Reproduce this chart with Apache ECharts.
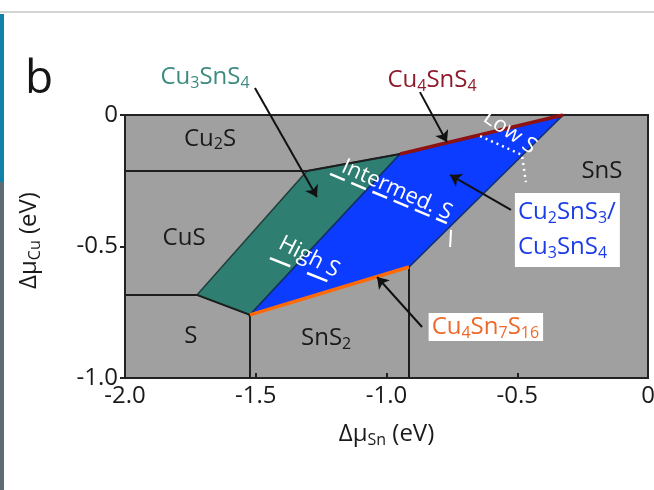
<!DOCTYPE html>
<html><head><meta charset="utf-8">
<script src="https://cdn.jsdelivr.net/npm/echarts@6/dist/echarts.min.js"></script>
<style>
html,body{margin:0;padding:0;background:#fff;overflow:hidden}
#c{position:absolute;left:0;top:0;width:654px;height:490px}
#topline{position:absolute;left:0;top:11px;width:654px;height:2px;background:#d4d4d4}
#bar1{position:absolute;left:0;top:14px;width:4px;height:168px;background:#1281a8}
#bar2{position:absolute;left:0;top:182px;width:4px;height:308px;background:#5d6b75}
</style></head><body>
<div id="c"></div><div id="topline"></div><div id="bar1"></div><div id="bar2"></div>
<script>
// ---- data (Δμ_Sn, Δμ_Cu in eV) ----
const xTickValues = [-2.0, -1.5, -1.0, -0.5, 0];
const yTickValues = [-1.0, -0.5, 0];
const cu3snS4Region = [[-1.725, -0.684], [-1.304, -0.213], [-0.948, -0.148], [-1.522, -0.760]];
const cu2snS3Region = [[-1.522, -0.760], [-0.948, -0.148], [-0.325, 0.0], [-0.914, -0.578]];
const cu2sCusLine = [[-2.0, -0.213], [-1.304, -0.213], [-0.948, -0.148]];
const cusSLine = [[-2.0, -0.684], [-1.725, -0.684], [-1.522, -0.760], [-1.522, -1.0]];
const snS2SnSLine = [[-0.914, -0.578], [-0.914, -1.0]];
const cu4snS4Line = [[-0.948, -0.148], [-0.325, 0.0]];
const cu4sn7S16Line = [[-1.522, -0.760], [-0.914, -0.578]];
const intermedDash = [[-1.216, -0.224], [-0.769, -0.411]];
const intermedTick = [[-0.753, -0.437], [-0.757, -0.502]];
const highDash = [[-1.446, -0.544], [-1.208, -0.639]];
const lowDots = [[-0.642, -0.080], [-0.482, -0.152], [-0.467, -0.255]];
const arrows = [
  [[-1.503, 0.103], [-1.266, -0.312]],
  [[-0.872, 0.087], [-0.769, -0.103]],
  [[-0.524, -0.361], [-0.757, -0.228]],
  [[-0.864, -0.806], [-1.036, -0.616]]
];
const phaseLabels = [
  ['Cu{s|2}S', [-1.675, -0.091], '#1a1a1a', 0, null],
  ['CuS', [-1.774, -0.468], '#1a1a1a', 0, null],
  ['S', [-1.748, -0.840], '#1a1a1a', 0, null],
  ['SnS{s|2}', [-1.231, -0.848], '#1a1a1a', 0, null],
  ['SnS', [-0.176, -0.213], '#1a1a1a', 0, null],
  ['Cu{s|3}SnS{s|4}', [-1.694, 0.144], '#3d8a80', 0, null],
  ['Cu{s|4}SnS{s|4}', [-0.826, 0.133], '#8e1b2b', 0, null],
  ['Cu{s|2}SnS{s|3}/\nCu{s|3}SnS{s|4}', [-0.509, -0.437], '#1c3de6', 0, '#ffffff'],
  ['Cu{s|4}Sn{s|7}S{s|16}', [-0.620, -0.806], '#ee6a2c', 0, '#ffffff'],
  ['Low S', [-0.528, -0.065], '#ffffff', -35, null],
  ['Intermed. S', [-0.960, -0.285], '#ffffff', -24, null],
  ['High S', [-1.296, -0.540], '#ffffff', -27, null]
];

const F = '"Open Sans", "Noto Sans", sans-serif';
const chart = echarts.init(document.getElementById('c'), null, {renderer: 'canvas'});

function fmt(v) { return v === 0 ? '0' : v.toFixed(1); }
function polySeries(region, fill, stroke) {
  return {
    type: 'custom', z: 1, silent: true, clip: false,
    data: [region[0]],
    renderItem: function (params, api) {
      return {type: 'polygon', shape: {points: region.map(function (p) { return api.coord(p); })},
        style: {fill: fill, stroke: stroke, lineWidth: 1.5}};
    }
  };
}
function lineSeries(pts, color, width, type, z) {
  return {type: 'line', data: pts, symbol: 'none', silent: true, z: z || 3,
    lineStyle: {color: color, width: width, type: type || 'solid'}};
}

const labelData = phaseLabels.map(function (l) {
  const multi = l[0].indexOf('\n') >= 0;
  return {
    value: l[1],
    label: {
      show: true, position: 'inside', formatter: l[0], rotate: l[3],
      color: l[2], fontSize: (l[2] === '#ffffff') ? 22 : 24, fontFamily: F,
      lineHeight: multi ? 35 : undefined,
      align: multi ? 'left' : 'center',
      backgroundColor: l[4] || 'transparent',
      padding: l[4] ? [2, 4, 2, 3] : 0,
      rich: {s: {fontSize: 16, lineHeight: 16, color: l[2], fontFamily: F, padding: [12, 0, 0, 0]}}
    }
  };
});

chart.setOption({
  animation: false,
  title: {text: 'b', left: 20, top: 52, textStyle: {fontSize: 46, fontWeight: 'normal', color: '#151515', fontFamily: F}},
  grid: {left: 125, right: 6, top: 115, bottom: 112, show: true, backgroundColor: '#a0a0a0',
    borderColor: '#222', borderWidth: 2, containLabel: false, outerBoundsMode: 'none'},
  xAxis: {
    type: 'value', min: -2, max: 0, interval: 0.5,
    axisLine: {show: true, onZero: false, lineStyle: {color: '#222', width: 2}},
    axisTick: {show: true, inside: true, length: 5, lineStyle: {color: '#222', width: 2}},
    axisLabel: {formatter: fmt, fontSize: 24, color: '#1a1a1a', fontFamily: F, margin: 6},
    splitLine: {show: false},
    name: 'Δμ{s|Sn} (eV)', nameLocation: 'middle', nameGap: 44,
    nameTextStyle: {fontSize: 24, color: '#1a1a1a', fontFamily: F,
      rich: {s: {fontSize: 16, lineHeight: 16, color: '#1a1a1a', fontFamily: F, padding: [12, 0, 0, 0]}}}
  },
  yAxis: {
    type: 'value', min: -1, max: 0, interval: 0.5,
    axisLine: {show: true, onZero: false, lineStyle: {color: '#222', width: 2}},
    axisTick: {show: true, inside: false, length: 5, lineStyle: {color: '#222', width: 2}},
    axisLabel: {formatter: fmt, fontSize: 24, color: '#1a1a1a', fontFamily: F, margin: 7},
    splitLine: {show: false},
    name: 'Δμ{s|Cu} (eV)', nameLocation: 'middle', nameGap: 84,
    nameTextStyle: {fontSize: 24, color: '#1a1a1a', fontFamily: F, padding: [0, 0, 0, 12],
      rich: {s: {fontSize: 16, lineHeight: 16, color: '#1a1a1a', fontFamily: F, padding: [12, 0, 0, 0]}}}
  },
  series: [
    polySeries(cu3snS4Region, '#2f7e72', '#1f3f3a'),
    polySeries(cu2snS3Region, '#0b3cff', '#13306e'),
    lineSeries(cu2sCusLine, '#1e1e1e', 2),
    lineSeries(cusSLine, '#1e1e1e', 2),
    lineSeries(snS2SnSLine, '#1e1e1e', 2),
    lineSeries(cu4snS4Line, '#8e1212', 3.5, 'solid', 4),
    lineSeries(cu4sn7S16Line, '#ff6a08', 3.5, 'solid', 4),
    lineSeries(intermedDash, '#ffffff', 2.5, [16, 7], 5),
    lineSeries(intermedTick, '#ffffff', 2, 'solid', 5),
    lineSeries(highDash, '#ffffff', 2.5, [22, 18], 5),
    lineSeries(lowDots, '#ffffff', 2.5, [2, 4], 5),
    {
      type: 'lines', coordinateSystem: 'cartesian2d', z: 6, clip: false, silent: true,
      symbol: ['none', 'arrow'], symbolSize: 11,
      lineStyle: {color: '#111', width: 2, opacity: 1, curveness: 0},
      data: arrows.map(function (a) { return {coords: a}; })
    },
    {
      type: 'scatter', z: 7, clip: false, silent: true, symbolSize: 0,
      itemStyle: {color: 'transparent', opacity: 1},
      data: labelData
    }
  ]
});
</script>
</body></html>
